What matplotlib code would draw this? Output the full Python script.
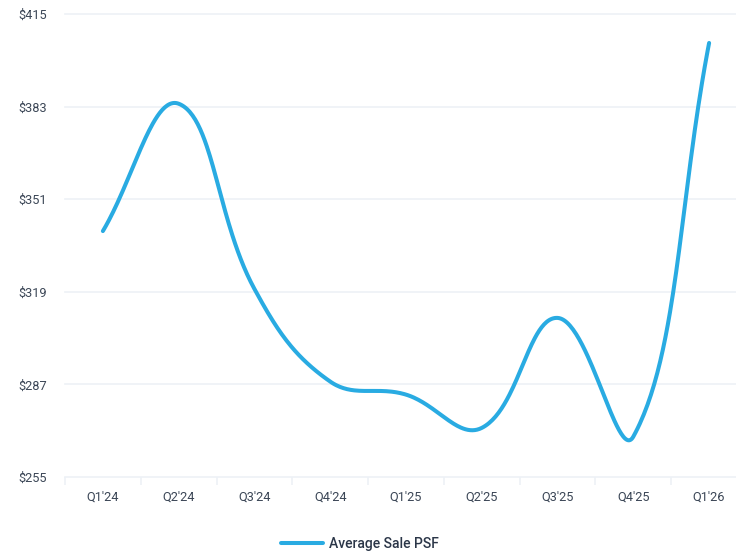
import numpy as np
import matplotlib
matplotlib.use("Agg")
import matplotlib.pyplot as plt
from matplotlib.lines import Line2D

categories = ["Q1'24", "Q2'24", "Q3'24", "Q4'24", "Q1'25", "Q2'25", "Q3'25", "Q4'25", "Q1'26"]
avg_sale_psf = [340, 384, 320, 288, 283.5, 272, 310, 269, 405]
y_ticks = [255, 287, 319, 351, 383, 415]
series_name = "Average Sale PSF"

LINE_COLOR = "#29abe2"
TEXT_COLOR = "#3b4656"
GRID_COLOR = "#edf1f6"

plt.rcParams['font.family'] = ['Roboto', 'DejaVu Sans']

fig = plt.figure(figsize=(7.36, 5.54), dpi=100)
W, H = 736, 554
left_px, right_px = 65, 747
bottom_px, top_px = 477.1, 14.0
ax = fig.add_axes([left_px / W, (H - bottom_px) / H, (right_px - left_px) / W, (bottom_px - top_px) / H])
ax.set_xlim(-0.5, len(categories) - 0.5)
ax.set_ylim(y_ticks[0], y_ticks[-1])

for s in ax.spines.values():
    s.set_visible(False)

# gridlines (extend to right edge)
for yv in y_ticks:
    ax.axhline(yv, color=GRID_COLOR, lw=1.2, zorder=0, clip_on=False)

ax.set_yticks(y_ticks)
ax.set_yticklabels([f"${v}" for v in y_ticks])
ax.tick_params(axis='y', length=0, pad=13, labelsize=9.2, labelcolor=TEXT_COLOR)

# x: category labels at centers, tick marks at band edges
ax.set_xticks(range(len(categories)))
ax.set_xticklabels(categories)
ax.tick_params(axis='x', which='major', length=0, pad=10, labelsize=9.2, labelcolor=TEXT_COLOR)
ax.set_xticks(np.arange(-0.5, len(categories), 1.0), minor=True)
ax.tick_params(axis='x', which='minor', length=6, width=1.2, color=GRID_COLOR, direction='out')

# Chart.js-style tension spline computed in pixel space
fig.canvas.draw()
pts = ax.transData.transform(np.column_stack([np.arange(len(avg_sale_psf)), avg_sale_psf]))
t = 0.4
n = len(pts)
cp_prev = np.zeros_like(pts)
cp_next = np.zeros_like(pts)
for i in range(n):
    prev = pts[max(i - 1, 0)]
    cur = pts[i]
    nxt = pts[min(i + 1, n - 1)]
    d01 = np.hypot(*(cur - prev))
    d12 = np.hypot(*(nxt - cur))
    tot = d01 + d12
    s01 = d01 / tot if tot else 0
    s12 = d12 / tot if tot else 0
    cp_prev[i] = cur - t * s01 * (nxt - prev)
    cp_next[i] = cur + t * s12 * (nxt - prev)

curve = []
u = np.linspace(0, 1, 60)[:, None]
for i in range(n - 1):
    p0, p1, p2, p3 = pts[i], cp_next[i], cp_prev[i + 1], pts[i + 1]
    seg = (1 - u) ** 3 * p0 + 3 * (1 - u) ** 2 * u * p1 + 3 * (1 - u) * u ** 2 * p2 + u ** 3 * p3
    curve.append(seg if i == 0 else seg[1:])
curve = np.vstack(curve)
data_curve = ax.transData.inverted().transform(curve)
ax.plot(data_curve[:, 0], data_curve[:, 1], color=LINE_COLOR, lw=2.9,
        solid_capstyle='round', solid_joinstyle='round', clip_on=False, zorder=3)

handle = Line2D([0], [0], color=LINE_COLOR, lw=2.9, solid_capstyle='round')
fig.legend([handle], [series_name], loc='center', bbox_to_anchor=(360 / W, (H - 544) / H),
           frameon=False, handlelength=3.0, handletextpad=0.45,
           prop={'size': 10, 'weight': 'medium'}, labelcolor="#2b3648")

fig.savefig("out.png", dpi=100)
